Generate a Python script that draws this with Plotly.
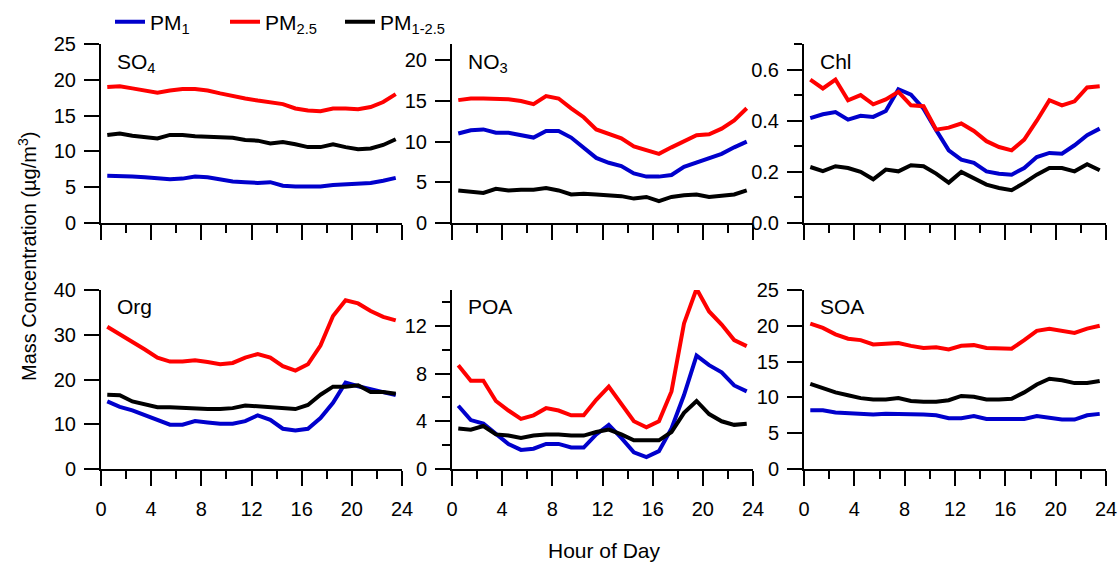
import plotly.graph_objects as go

hours = [0.5, 1.5, 2.5, 3.5, 4.5, 5.5, 6.5, 7.5, 8.5, 9.5, 10.5, 11.5,
         12.5, 13.5, 14.5, 15.5, 16.5, 17.5, 18.5, 19.5, 20.5, 21.5, 22.5, 23.5]

species = ["SO<sub>4</sub>", "NO<sub>3</sub>", "Chl", "Org", "POA", "SOA"]
series_names = ["PM<sub>1</sub>", "PM<sub>2.5</sub>", "PM<sub>1-2.5</sub>"]
series_colors = ["#0000CC", "#FF0000", "#000000"]

so4_pm1 = [6.6, 6.6, 6.5, 6.4, 6.3, 6.1, 6.2, 6.5, 6.4, 6.1, 5.8, 5.7, 5.6, 5.7, 5.2, 5.1, 5.1, 5.1, 5.3, 5.4, 5.5, 5.6, 5.9, 6.3]
so4_pm25 = [19.0, 19.1, 18.8, 18.5, 18.2, 18.5, 18.7, 18.7, 18.5, 18.1, 17.7, 17.4, 17.1, 16.9, 16.6, 16.0, 15.7, 15.6, 16.0, 16.0, 15.9, 16.2, 16.9, 18.0]
so4_pm1_25 = [12.3, 12.5, 12.2, 12.0, 11.8, 12.3, 12.3, 12.1, 12.0, 11.9, 11.9, 11.6, 11.5, 11.1, 11.3, 11.0, 10.6, 10.6, 11.0, 10.6, 10.3, 10.4, 10.9, 11.7]

no3_pm1 = [11.0, 11.4, 11.5, 11.1, 11.1, 10.8, 10.5, 11.3, 11.3, 10.5, 9.3, 8.0, 7.4, 7.0, 6.1, 5.7, 5.7, 5.9, 6.9, 7.4, 7.9, 8.5, 9.3, 10.0]
no3_pm25 = [15.1, 15.3, 15.3, 15.3, 15.2, 15.0, 14.6, 15.6, 15.3, 14.1, 13.0, 11.5, 10.9, 10.4, 9.4, 9.0, 8.5, 9.3, 10.0, 10.8, 10.9, 11.6, 12.6, 14.1]
no3_pm1_25 = [4.0, 3.8, 3.7, 4.2, 4.0, 4.1, 4.1, 4.3, 4.0, 3.5, 3.6, 3.5, 3.4, 3.3, 3.0, 3.2, 2.7, 3.2, 3.4, 3.5, 3.2, 3.4, 3.5, 4.0]

chl_pm1 = [0.41, 0.425, 0.434, 0.404, 0.419, 0.415, 0.438, 0.523, 0.502, 0.447, 0.363, 0.284, 0.248, 0.235, 0.202, 0.193, 0.189, 0.215, 0.258, 0.274, 0.271, 0.304, 0.343, 0.369]
chl_pm25 = [0.561, 0.526, 0.561, 0.48, 0.50, 0.464, 0.483, 0.513, 0.46, 0.457, 0.365, 0.373, 0.389, 0.36, 0.32, 0.297, 0.284, 0.326, 0.40, 0.48, 0.46, 0.476, 0.53, 0.535]
chl_pm1_25 = [0.219, 0.203, 0.222, 0.215, 0.20, 0.171, 0.209, 0.202, 0.226, 0.222, 0.193, 0.158, 0.20, 0.176, 0.15, 0.137, 0.128, 0.157, 0.189, 0.215, 0.215, 0.202, 0.23, 0.206]

org_pm1 = [15.1, 13.9, 13.1, 12.0, 11.0, 9.9, 9.9, 10.7, 10.4, 10.1, 10.1, 10.7, 12.0, 11.0, 9.0, 8.6, 9.0, 11.4, 14.8, 19.3, 18.5, 17.8, 17.0, 16.5]
org_pm25 = [31.8, 30.1, 28.6, 26.7, 24.9, 24.0, 24.0, 24.3, 23.9, 23.4, 23.7, 24.9, 25.7, 24.9, 23.0, 22.0, 23.4, 27.6, 34.2, 37.7, 37.0, 35.3, 34.0, 33.2]
org_pm1_25 = [16.6, 16.5, 15.1, 14.4, 13.8, 13.8, 13.6, 13.6, 13.4, 13.4, 13.6, 14.2, 14.0, 13.9, 13.7, 13.4, 14.3, 16.6, 18.4, 18.4, 18.7, 17.2, 17.2, 16.8]

poa_pm1 = [5.3, 4.1, 3.8, 2.9, 2.1, 1.6, 1.7, 2.1, 2.1, 1.8, 1.8, 2.9, 3.7, 2.6, 1.4, 1.0, 1.5, 3.4, 6.2, 9.5, 8.7, 8.1, 7.0, 6.5]
poa_pm25 = [8.7, 7.4, 7.4, 5.7, 4.9, 4.2, 4.5, 5.1, 4.9, 4.5, 4.5, 5.8, 6.9, 5.5, 4.0, 3.5, 4.0, 6.5, 12.2, 15.1, 13.2, 12.1, 10.8, 10.3]
poa_pm1_25 = [3.4, 3.3, 3.6, 2.9, 2.8, 2.6, 2.8, 2.9, 2.9, 2.8, 2.8, 3.1, 3.3, 2.9, 2.4, 2.4, 2.4, 3.1, 4.7, 5.7, 4.6, 4.0, 3.7, 3.8]

soa_pm1 = [8.2, 8.2, 7.9, 7.8, 7.8, 7.6, 7.7, 7.7, 7.6, 7.6, 7.5, 7.1, 7.1, 7.4, 7.0, 7.0, 6.9, 7.0, 7.4, 7.1, 6.9, 6.9, 7.5, 7.7]
soa_pm25 = [20.3, 19.7, 18.8, 18.2, 18.0, 17.4, 17.5, 17.6, 17.2, 16.9, 17.0, 16.7, 17.2, 17.3, 16.9, 16.8, 16.8, 18.0, 19.3, 19.6, 19.3, 19.0, 19.6, 20.0]
soa_pm1_25 = [11.9, 11.3, 10.7, 10.3, 9.9, 9.7, 9.7, 9.9, 9.5, 9.4, 9.4, 9.6, 10.2, 10.1, 9.7, 9.7, 9.8, 10.7, 11.8, 12.6, 12.4, 12.0, 12.0, 12.3]

x_ticks = [0, 4, 8, 12, 16, 20, 24]
y_ranges = [[0, 25], [0, 22], [0, 0.7], [0, 40], [0, 15], [0, 25]]
y_dticks = [5, 5, 0.2, 10, 4, 5]
y_minor = [None, None, 0.1, None, 2, None]

panel_data = [
    (so4_pm1, so4_pm25, so4_pm1_25),
    (no3_pm1, no3_pm25, no3_pm1_25),
    (chl_pm1, chl_pm25, chl_pm1_25),
    (org_pm1, org_pm25, org_pm1_25),
    (poa_pm1, poa_pm25, poa_pm1_25),
    (soa_pm1, soa_pm25, soa_pm1_25),
]

FONT = "Arial, Liberation Sans, sans-serif"
W, H = 1120, 562
ML, MR, MT, MB = 101, 14, 44, 93
pw = W - ML - MR
ph = H - MT - MB
col_dom = [[0, 301 / pw], [351 / pw, 652 / pw], [703 / pw, 1.0]]
row_dom = [[1 - 179 / ph, 1.0], [0, 179 / ph]]

fig = go.Figure()
for i, vals in enumerate(panel_data):
    idx = "" if i == 0 else str(i + 1)
    for s in range(3):
        fig.add_trace(go.Scatter(
            x=hours, y=vals[s], mode="lines",
            line=dict(color=series_colors[s], width=4),
            name=series_names[s], legendgroup=str(s),
            showlegend=(i == 0),
            xaxis="x" + idx, yaxis="y" + idx,
        ))

layout = dict(
    width=W, height=H,
    margin=dict(l=ML, r=MR, t=MT, b=MB, autoexpand=False),
    paper_bgcolor="white", plot_bgcolor="white",
    font=dict(family=FONT, size=20, color="black"),
    showlegend=True,
    legend=dict(orientation="h", x=9 / pw, xanchor="left", y=1 + 22 / ph, yanchor="middle",
                font=dict(size=21), bgcolor="rgba(0,0,0,0)", itemwidth=30,
                entrywidth=70, entrywidthmode="pixels",
                traceorder="normal", tracegroupgap=0),
    annotations=[],
)

for i in range(6):
    r, c = divmod(i, 3)
    idx = "" if i == 0 else str(i + 1)
    xa = dict(domain=col_dom[c], range=[0, 24], anchor="y" + idx,
              tickmode="array", tickvals=x_ticks, ticks="outside", ticklen=15,
              tickwidth=2, tickcolor="black", showline=True, linecolor="black",
              linewidth=2, showgrid=False, zeroline=False,
              showticklabels=(r == 1),
              tickfont=dict(size=20), ticklabelstandoff=6,
              minor=dict(dtick=2, tick0=0, ticks="outside", ticklen=8,
                         tickwidth=2, tickcolor="black", showgrid=False))
    ya = dict(domain=row_dom[r], range=y_ranges[i], anchor="x" + idx,
              dtick=y_dticks[i], tick0=0, ticks="outside", ticklen=15,
              tickwidth=2, tickcolor="black", showline=True, linecolor="black",
              linewidth=2, showgrid=False, zeroline=False,
              tickfont=dict(size=20), ticklabelstandoff=4)
    if i == 2:
        ya["tickformat"] = ".1f"
    if y_minor[i] is not None:
        ya["minor"] = dict(dtick=y_minor[i], tick0=0, ticks="outside", ticklen=8,
                           tickwidth=2, tickcolor="black", showgrid=False)
    layout["xaxis" + idx] = xa
    layout["yaxis" + idx] = ya
    layout["annotations"].append(dict(
        text=species[i], xref="x" + idx + " domain", yref="y" + idx + " domain",
        x=0.045, y=(0.977 if r == 0 else 0.985), xanchor="left", yanchor="top",
        showarrow=False, font=dict(size=21)))

layout["annotations"].append(dict(
    text="Mass Concentration (\u00b5g/m<sup>3</sup>)", xref="paper", yref="paper",
    x=(27 - ML) / pw, y=1 - (257 - MT) / ph, xanchor="center", yanchor="middle",
    textangle=-90, showarrow=False, font=dict(size=20)))
layout["annotations"].append(dict(
    text="Hour of Day", xref="paper", yref="paper",
    x=(604 - ML) / pw, y=1 - (550 - MT) / ph, xanchor="center", yanchor="middle",
    showarrow=False, font=dict(size=21)))

fig.update_layout(**layout)
fig.write_html("out.html")
